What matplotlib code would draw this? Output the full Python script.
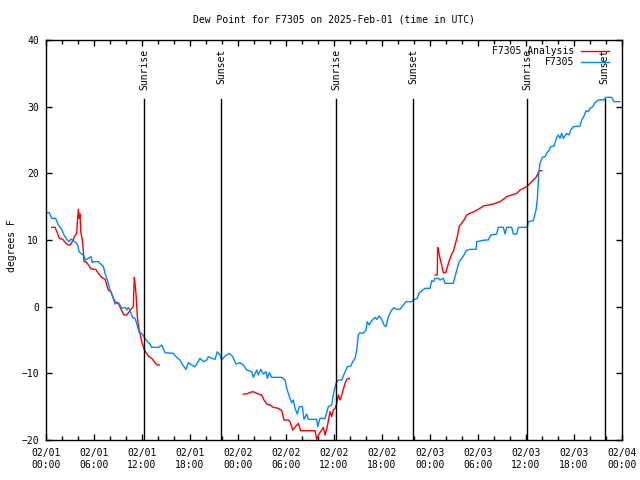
import matplotlib
matplotlib.use("Agg")
import matplotlib.pyplot as plt
import matplotlib.dates as mdates
import numpy as np
import pandas as pd

plt.rcParams['font.family'] = ['DejaVu Sans Mono']
FS = 7

base = pd.Timestamp("2025-02-01 00:00")

# F7305 observations: hours since 02/01 00:00 UTC, dew point (F)
obs_hours = [0.09, 0.41, 0.71, 1.21, 1.54, 1.96, 2.25, 2.59, 2.88, 3.13, 3.41, 3.75, 3.96, 4.13, 4.46,
             4.75, 4.88, 5.29, 5.63, 5.79, 5.91, 6.54, 6.96, 7.16, 7.38, 7.59, 7.79, 8.0, 8.21, 8.41,
             8.63, 9.04, 9.25, 9.46, 9.88, 10.09, 10.29, 10.5, 10.84, 11.13, 11.34, 11.66, 11.96, 12.25,
             12.66, 13.0, 13.21, 14.04, 14.46, 14.88, 15.91, 16.34, 16.75, 17.09, 17.5, 17.79, 18.21,
             18.63, 19.25, 19.66, 20.09, 20.29, 20.71, 21.13, 21.41, 21.75, 21.96, 22.38, 22.91, 23.34,
             23.75, 24.25, 24.66, 25.09, 25.71, 25.91, 26.34, 26.54, 26.84, 27.16, 27.5, 27.66, 27.91,
             28.21, 29.46, 29.88, 30.09, 30.29, 30.5, 30.71, 30.91, 31.13, 31.41, 31.66, 32.04, 32.25,
             32.59, 32.79, 33.84, 33.96, 34.25, 34.88, 35.29, 35.71, 35.91, 36.25, 36.54, 36.96, 37.16,
             37.5, 37.66, 38.09, 38.34, 38.63, 38.84, 39.04, 39.25, 39.66, 40.0, 40.16, 40.41, 40.71,
             41.13, 41.34, 41.66, 41.96, 42.25, 42.5, 42.79, 43.21, 43.5, 43.84, 44.25, 44.66, 45.0,
             45.71, 45.91, 46.41, 46.66, 47.09, 47.38, 48.0, 48.21, 48.41, 48.63, 49.04, 49.25, 49.66,
             49.88, 50.91, 51.13, 51.41, 51.66, 51.96, 52.25, 52.5, 53.0, 53.75, 53.84, 54.88, 55.29,
             55.59, 56.34, 56.54, 57.16, 57.38, 57.59, 58.21, 58.41, 58.84, 59.04, 60.16, 60.29, 60.91,
             61.25, 61.41, 61.59, 61.75, 62.04, 62.38, 62.59, 62.88, 63.09, 63.5, 63.84, 64.04, 64.25,
             64.46, 64.66, 65.09, 65.38, 65.59, 65.91, 66.75, 66.96, 67.25, 67.5, 67.79, 68.0, 68.34,
             68.63, 69.04, 69.66, 70.0, 70.71, 71.0, 71.75]
obs_dewpt = [14.1, 14.1, 13.25, 13.25, 12.25, 11.6, 10.75, 10.1, 9.75, 10.15, 9.9, 9.6, 9.25, 8.25, 7.9,
             7.6, 7.0, 7.25, 7.5, 6.6, 6.75, 6.75, 6.25, 6.1, 5.0, 4.25, 3.5, 2.5, 2.0, 1.25,
             0.4, 0.6, 0.25, -0.25, -0.1, -0.5, -0.1, -0.6, -1.65, -1.75, -2.5, -3.9, -4.0, -4.5,
             -5.25, -5.6, -6.1, -6.1, -5.75, -6.9, -7.0, -7.6, -8.0, -8.75, -9.4, -8.4, -8.75,
             -9.0, -7.75, -8.25, -8.0, -7.5, -7.75, -7.9, -6.75, -7.25, -8.0, -7.4, -7.0, -7.5,
             -8.6, -8.4, -8.75, -9.5, -9.75, -10.6, -9.5, -10.25, -9.4, -10.1, -9.75, -10.75, -9.9,
             -10.6, -10.6, -11.0, -12.25, -13.0, -13.75, -14.4, -14.0, -15.25, -16.1, -15.0, -15.0, -16.9,
             -16.1, -16.9, -16.9, -18.0, -16.75, -16.75, -15.0, -14.75, -13.25, -11.5, -11.0, -11.0, -10.4,
             -9.5, -9.0, -8.9, -8.25, -7.75, -6.5, -4.25, -3.9, -4.0, -3.5, -2.25, -2.75, -2.1,
             -1.6, -1.9, -1.4, -1.9, -2.75, -3.0, -1.5, -0.5, -0.15, -0.4, -0.4, 0.25, 0.75,
             0.75, 1.0, 1.25, 2.1, 2.5, 2.75, 2.75, 3.9, 3.75, 4.25, 4.25, 4.0, 4.25,
             3.5, 3.5, 4.5, 5.75, 6.75, 7.25, 7.75, 8.4, 8.6, 8.6, 9.75, 10.0, 10.0,
             10.75, 10.9, 11.9, 11.9, 10.9, 11.9, 11.9, 10.9, 10.9, 11.9, 11.9, 12.75, 12.9,
             14.5, 16.0, 20.0, 21.5, 22.4, 22.5, 23.0, 23.5, 24.0, 24.1, 25.4, 25.75, 25.25,
             26.0, 25.25, 26.0, 25.75, 26.5, 27.0, 27.1, 28.0, 28.6, 29.4, 29.25, 29.75, 30.0,
             30.6, 31.0, 31.0, 31.4, 31.4, 30.75, 30.75]

# F7305 Analysis (NaN = gap between analysis runs)
ana_hours = [0.71, 1.13, 1.41, 1.66, 2.09, 2.5, 2.79, 3.0, 3.29, 3.54, 3.84, 3.91, 4.04, 4.16, 4.25,
             4.34, 4.54, 4.66, 4.75, 5.0, 5.29, 5.59, 5.91, 6.21, 6.54, 6.96, 7.38, 7.59, 7.79, 8.09,
             8.34, 8.63, 9.04, 9.46, 9.75, 10.09, 10.41, 10.71, 10.91, 11.04, 11.13, 11.25, 11.41,
             11.54, 11.75, 11.96, 12.29, 12.79, 13.21, 13.63, 13.91, 14.16,
             19.0,
             24.66, 25.09, 25.5, 25.91, 26.54, 26.96, 27.25, 27.59, 28.0, 28.41, 29.04, 29.46, 29.75,
             30.29, 30.5, 30.84, 31.25, 31.54, 31.84, 33.63, 33.84, 34.04, 34.46, 34.66, 34.88, 35.16,
             35.5, 35.71, 35.91, 36.13, 36.34, 36.54, 36.75, 36.96, 37.16, 37.38, 37.59, 37.91,
             43.0,
             48.63, 48.91, 48.95, 49.04, 49.25, 49.46, 49.66, 49.96, 50.16, 50.41, 50.71, 50.91, 51.13,
             51.41, 51.66, 51.96, 52.25, 52.59, 53.0, 53.5, 54.04, 54.66, 55.29, 55.91, 56.75, 57.16,
             57.59, 58.21, 58.84, 59.25, 59.66, 60.09, 60.5, 60.84, 61.25, 61.66, 61.96]
ana_dewpt = [11.9, 11.9, 11.1, 10.25, 10.1, 9.5, 9.25, 9.25, 9.75, 10.5, 11.0, 12.5, 14.6, 13.25, 13.9,
             11.25, 10.0, 8.5, 6.75, 6.75, 6.25, 5.75, 5.6, 5.6, 5.0, 4.4, 4.1, 3.25, 2.5, 2.25,
             1.5, 0.75, 0.5, -0.6, -1.25, -1.25, -0.75, -0.25, 0.0, 4.4, 3.5, 1.9, -1.4,
             -2.75, -4.0, -5.25, -6.5, -7.4, -7.75, -8.4, -8.75, -8.75,
             np.nan,
             -13.1, -13.1, -12.85, -12.75, -13.1, -13.25, -14.0, -14.6, -14.75, -15.1, -15.25, -15.6, -17.0,
             -17.0, -17.25, -18.5, -17.9, -17.5, -18.6, -18.6, -19.9, -19.25, -18.5, -18.1, -19.25, -18.0,
             -15.75, -16.5, -15.5, -15.25, -14.5, -13.25, -14.0, -13.25, -12.4, -11.5, -10.9, -10.75,
             np.nan,
             4.75, 4.75, 8.9, 8.5, 7.25, 6.25, 5.1, 5.1, 5.9, 6.9, 7.9, 8.25, 9.25,
             10.5, 12.1, 12.5, 13.0, 13.75, 14.0, 14.25, 14.6, 15.1, 15.25, 15.4, 15.75, 16.1,
             16.5, 16.75, 17.0, 17.5, 17.75, 18.0, 18.5, 18.9, 19.4, 20.4, 20.4]

sun_hours = [12.29, 21.9, 36.25, 45.9, 60.17, 69.83]
sun_labels = ["Sunrise", "Sunset", "Sunrise", "Sunset", "Sunrise", "Sunset"]

series_labels = ["F7305 Analysis", "F7305"]
series_colors = ["#ff0000", "#0088ff"]


def to_time(hours):
    return [base + pd.Timedelta(hours=float(h)) for h in hours]


fig = plt.figure(figsize=(6.4, 4.8), dpi=100)
ax = fig.add_axes([46 / 640, 40 / 480, 576 / 640, 400 / 480])

ax.plot(to_time(ana_hours), ana_dewpt, color=series_colors[0], lw=1.0)
ax.plot(to_time(obs_hours), obs_dewpt, color=series_colors[1], lw=1.0)

ax.set_xlim(base, base + pd.Timedelta(days=3))
ax.set_ylim(-20, 40)

for h, lab in zip(sun_hours, sun_labels):
    t = base + pd.Timedelta(hours=h)
    ax.axvline(t, ymin=0, ymax=0.852, color='black', lw=1.0)
    ax.text(t, 0.978, lab, rotation=90, ha='center', va='top', fontsize=FS,
            transform=ax.get_xaxis_transform())

# legend (right-aligned text, sample line to the right)
for i, (lab, col) in enumerate(zip(series_labels, series_colors)):
    yy = 0.9725 - i * 0.0275
    ax.text(0.9167, yy, lab, ha='right', va='center', fontsize=FS, transform=ax.transAxes)
    ax.plot([0.9288, 0.9774], [yy, yy], color=col, lw=1.0, transform=ax.transAxes)

ax.xaxis.set_major_locator(mdates.HourLocator(byhour=range(0, 24, 6)))
ax.xaxis.set_major_formatter(mdates.DateFormatter('%m/%d\n%H:%M'))
ax.xaxis.set_minor_locator(mdates.HourLocator(byhour=range(0, 24, 2)))
ax.set_yticks(np.arange(-20, 41, 10))

ax.tick_params(axis='both', which='both', direction='in', top=True, right=True,
               labelsize=FS, width=1.0)
ax.tick_params(axis='both', which='major', length=4)
ax.tick_params(axis='x', which='minor', length=3)
ax.tick_params(axis='x', which='major', pad=6)
ax.tick_params(axis='y', which='major', pad=5)
for lab in ax.get_xticklabels():
    lab.set_linespacing(1.25)
for sp in ax.spines.values():
    sp.set_linewidth(1.0)

fig.text(12 / 640, 1 - 246 / 480, "degrees F", rotation=90, ha='center', va='center', fontsize=FS)
fig.text(334 / 640, 1 - 19 / 480, "Dew Point for F7305 on 2025-Feb-01 (time in UTC)",
         ha='center', va='center', fontsize=FS)

fig.savefig("out.png", dpi=100)
